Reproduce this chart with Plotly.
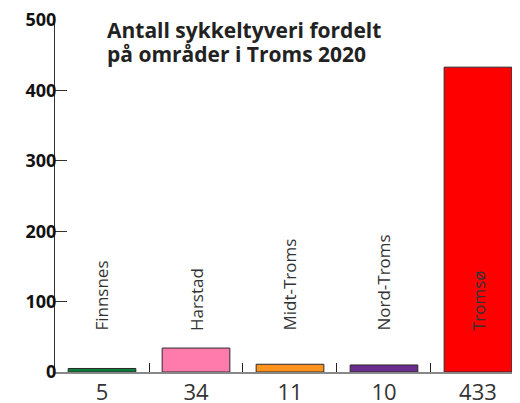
import plotly.graph_objects as go

categories = ["Finnsnes", "Harstad", "Midt-Troms", "Nord-Troms", "Tromsø"]
values = [5, 34, 11, 10, 433]
colors = ["#0b7d3a", "#ff7bac", "#ff931e", "#6a2c8e", "#ff0000"]
y_ticks = [0, 100, 200, 300, 400, 500]
title_lines = ["Antall sykkeltyveri fordelt", "på områder i Troms 2020"]

fig = go.Figure()
fig.add_trace(go.Bar(
    x=list(range(len(categories))),
    y=values,
    width=0.72,
    marker=dict(color=colors, line=dict(color="#2a2a2a", width=1)),
    hoverinfo="skip",
))

for i, c in enumerate(categories):
    fig.add_annotation(x=i, y=56, xref="x", yref="y", text=c, textangle=-90,
                       showarrow=False, yanchor="bottom", xanchor="center",
                       font=dict(family="Open Sans", size=17, color="#333333"))

for j, line in enumerate(title_lines):
    fig.add_annotation(xref="paper", yref="paper", x=0.107, y=0.9716 - j * 0.0668,
                       xanchor="left", yanchor="middle",
                       text=line, showarrow=False, align="left",
                       font=dict(family="Open Sans", size=21, color="#222222", weight="bold"))

# the page body adds an 8px offset; figure sized so the plot fills the 520x403 window
fig.update_layout(
    template="none",
    width=512, height=395,
    margin=dict(l=47, r=0, t=12, b=31, pad=0),
    paper_bgcolor="white", plot_bgcolor="white",
    showlegend=False,
    font=dict(family="Open Sans"),
)
fig.update_xaxes(
    automargin=False,
    type="linear",
    range=[-0.5, 4.447],
    tickvals=list(range(len(categories))),
    ticktext=[str(v) for v in values],
    tickfont=dict(family="Open Sans", size=22, color="#333333"),
    ticklabeloverflow="allow",
    showgrid=False, zeroline=False,
    showline=True, linecolor="#888888", linewidth=1.5,
    ticks="",
    minor=dict(tickvals=[0.5, 1.5, 2.5, 3.5], ticks="inside", ticklen=9,
               tickcolor="#222222", tickwidth=1),
)
fig.update_yaxes(
    automargin=False,
    range=[0, 500],
    tickvals=y_ticks,
    tickfont=dict(family="Open Sans", size=18, color="#111111", weight="bold"),
    ticklabeloverflow="allow",
    showgrid=False, zeroline=False,
    showline=True, linecolor="#333333", linewidth=1,
    ticks="inside", ticklen=12, tickcolor="#333333",
    ticklabelstandoff=-6,
)

fig.write_html("out.html")
